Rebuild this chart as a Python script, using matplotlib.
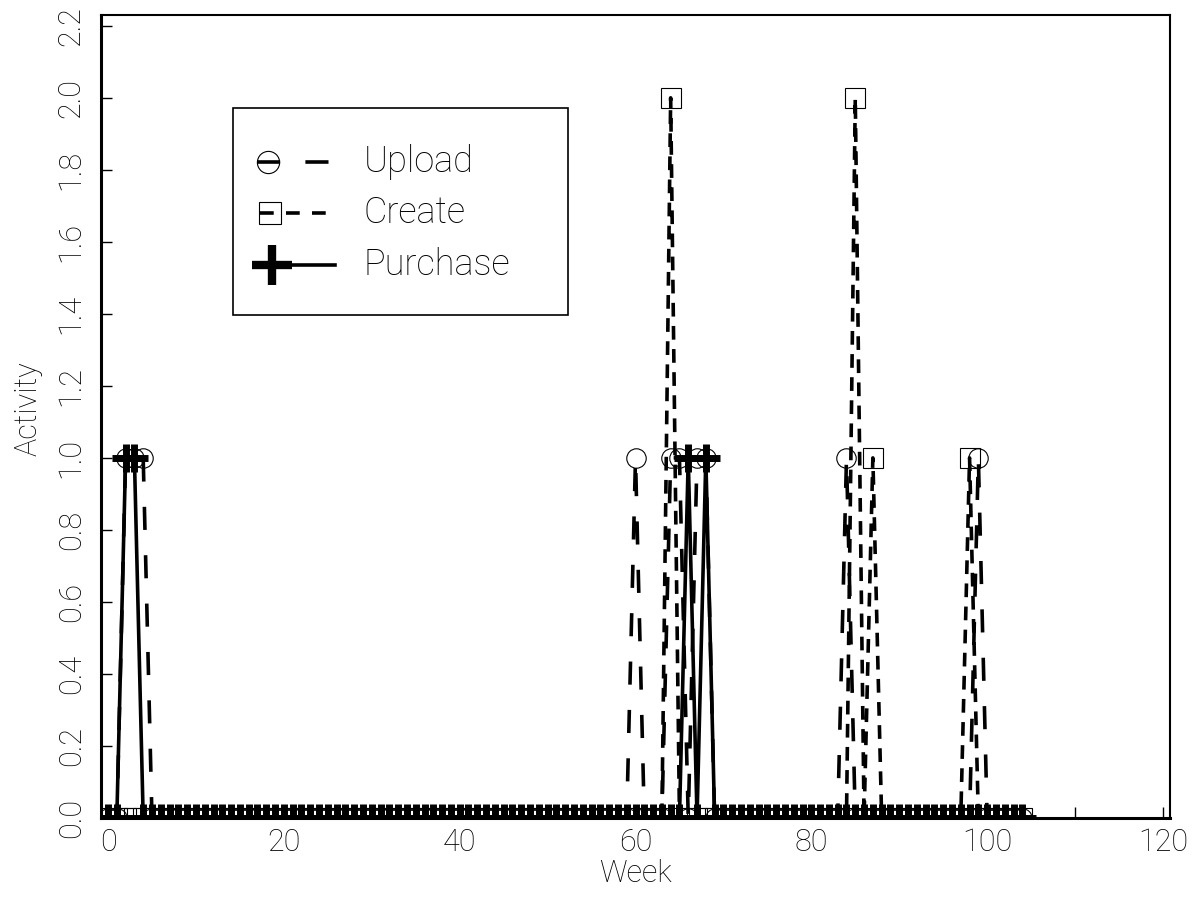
import numpy as np
import matplotlib.pyplot as plt
from matplotlib.patches import Rectangle
from matplotlib.lines import Line2D

plt.rcParams['font.family'] = ['Roboto', 'DejaVu Sans']
plt.rcParams['font.weight'] = 'light'
plt.rcParams['axes.labelweight'] = 'light'

n_weeks = 105  # weeks 0 .. 104
upload_weeks = [2, 3, 4, 60, 64, 65, 67, 68, 84, 99]
upload_vals = [1, 1, 1, 1, 1, 1, 1, 1, 1, 1]
create_weeks = [64, 85, 87, 98]
create_vals = [2, 2, 1, 1]
purchase_weeks = [2, 3, 66, 68]
purchase_vals = [1, 1, 1, 1]

week = np.arange(n_weeks)
upload = np.zeros(n_weeks)
upload[upload_weeks] = upload_vals
create = np.zeros(n_weeks)
create[create_weeks] = create_vals
purchase = np.zeros(n_weeks)
purchase[purchase_weeks] = purchase_vals

fig = plt.figure(figsize=(11.98, 9.11), dpi=100)
ax = fig.add_axes([101/1198, 93/911, 1069/1198, 803/911])

lw = 2.6
ax.plot(week, upload, color='black', lw=lw, dashes=(6.4, 7), marker='o', ms=14,
        mfc='none', mec='black', mew=0.8)
ax.plot(week, create, color='black', lw=lw, dashes=(3.8, 2.6), marker='s', ms=14,
        mfc='none', mec='black', mew=0.8)
ax.plot(week, purchase, color='black', lw=lw, ls='-', marker='+', ms=20,
        mec='black', mew=5)

ax.set_xlim(-0.8, 120.8)
ax.set_ylim(0, 2.23)
ax.set_xticks(np.arange(0, 121, 20))
ax.set_xticks(np.arange(10, 120, 20), minor=True)
ax.set_yticks(np.arange(0, 2.21, 0.2))
ax.set_yticklabels(['%.1f' % v for v in np.arange(0, 2.21, 0.2)], rotation=90, va='center')
ax.tick_params(axis='both', which='both', direction='in', length=8, width=1,
               labelsize=22, top=False, right=False)
ax.tick_params(axis='x', pad=7)
ax.tick_params(axis='y', pad=11)
for s in ['left', 'bottom']:
    ax.spines[s].set_linewidth(2.2)
for s in ['top', 'right']:
    ax.spines[s].set_linewidth(1.5)

ax.set_xlabel('Week', fontsize=22)
ax.xaxis.set_label_coords(0.5, -0.069)
ax.xaxis.label.set_va('center')
ax.set_ylabel('Activity', fontsize=22)
ax.yaxis.set_label_coords(-0.068, 0.51)
ax.yaxis.label.set_va('center')

# legend drawn by hand: symbol at the left end of each line sample
ax.add_patch(Rectangle((0.1235, 0.6264), 0.3134, 0.2578, transform=ax.transAxes,
                       fill=False, lw=1.2, ec='black', zorder=5))
tr = ax.transAxes
ax.add_line(Line2D([0.146, 0.2155], [0.8169, 0.8169], transform=tr, color='black',
                   lw=lw, dashes=(6.4, 7), zorder=6))
ax.add_line(Line2D([0.156], [0.8169], transform=tr, marker='o', ms=16, mfc='none',
                   mec='black', mew=0.8, ls='none', zorder=6))
ax.add_line(Line2D([0.149, 0.2155], [0.7534, 0.7534], transform=tr, color='black',
                   lw=lw, dashes=(3.8, 3.4), zorder=6))
ax.add_line(Line2D([0.1585], [0.7534], transform=tr, marker='s', ms=16, mfc='none',
                   mec='black', mew=0.8, ls='none', zorder=6))
ax.add_line(Line2D([0.16, 0.2185], [0.6887, 0.6887], transform=tr, color='black',
                   lw=lw, zorder=6))
ax.add_line(Line2D([0.1595], [0.6887], transform=tr, marker='+', ms=29,
                   mec='black', mew=6, ls='none', zorder=6))
for label, y in [('Upload', 0.8169), ('Create', 0.7534), ('Purchase', 0.6887)]:
    ax.text(0.246, y, label, transform=tr, fontsize=26, va='center', ha='left', zorder=6)

fig.savefig('out.png', dpi=100)
